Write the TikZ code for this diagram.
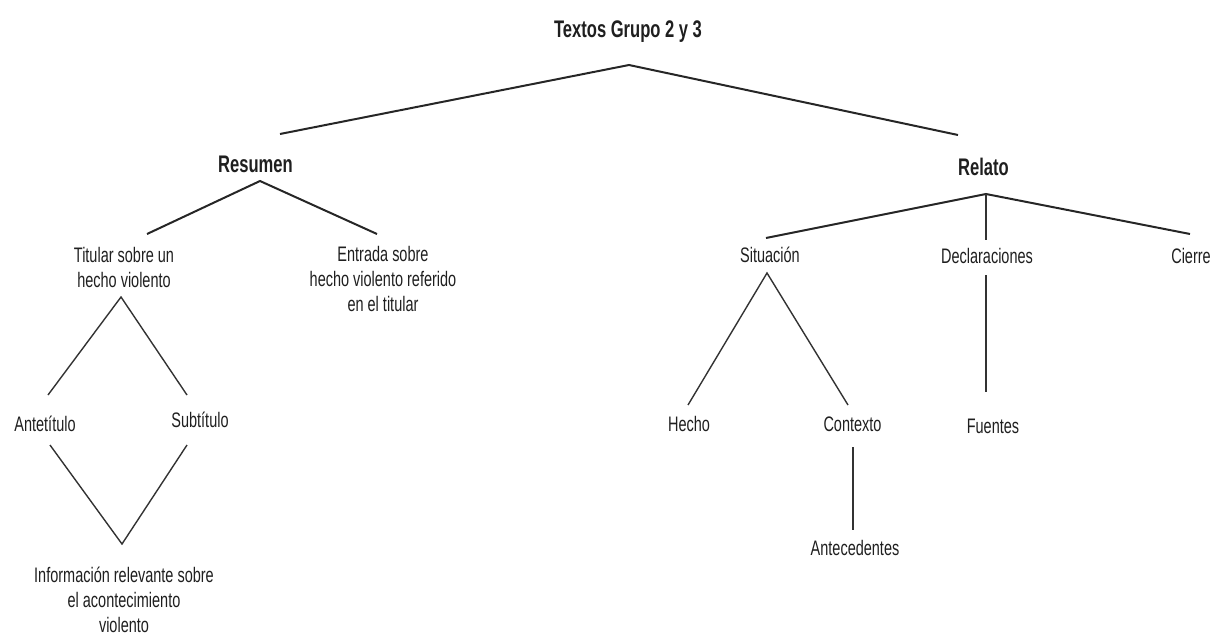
\documentclass[tikz,border=0pt]{standalone}
\usepackage{fontspec}
\setmainfont{Liberation Sans}[FakeStretch=0.69]
\begin{document}
\begin{tikzpicture}[x=1pt,y=-1pt,
  txt/.style={inner sep=0pt, text=black!88, font=\fontsize{21}{25}\selectfont, align=center},
  head/.style={inner sep=0pt, text=black!88, font=\fontsize{24}{28}\selectfont\bfseries},
  thick link/.style={draw=black!85, line width=2pt},
  thin link/.style={draw=black!80, line width=1.4pt}]
\useasboundingbox (0,0) rectangle (1212,637);
% texts
\node[head, anchor=base] (title) at (628,37) {Textos Grupo 2 y 3};
\node[head, anchor=base] (resumen) at (255.5,172) {Resumen};
\node[head, anchor=base] (relato) at (983.5,175) {Relato};
\node[txt, anchor=north] (titular) at (124,247) {Titular sobre un\\hecho violento};
\node[txt, anchor=north] (entrada) at (383,246) {Entrada sobre\\hecho violento referido\\en el titular};
\node[txt, anchor=base] (ante) at (45,431) {Antetítulo};
\node[txt, anchor=base] (sub) at (200,427) {Subtítulo};
\node[txt, anchor=north] (info) at (124,567) {Información relevante sobre\\el acontecimiento\\violento};
\node[txt, anchor=base] (situacion) at (770,262) {Situación};
\node[txt, anchor=base] (declar) at (987,263) {Declaraciones};
\node[txt, anchor=base] (cierre) at (1191,263) {Cierre};
\node[txt, anchor=base] (hecho) at (689,431) {Hecho};
\node[txt, anchor=base] (contexto) at (852.5,431) {Contexto};
\node[txt, anchor=base] (fuentes) at (993,433) {Fuentes};
\node[txt, anchor=base] (antec) at (855,555) {Antecedentes};
% connector end points
\coordinate (tA) at (629,65);
\coordinate (rsIn) at (280,134);
\coordinate (rlIn) at (958,135);
\coordinate (rsA) at (260,181);
\coordinate (tiIn) at (147,234);
\coordinate (enIn) at (377,234);
\coordinate (tiA) at (121,297);
\coordinate (anIn) at (48,395);
\coordinate (suIn) at (187,395);
\coordinate (anOut) at (50,445);
\coordinate (suOut) at (187,445);
\coordinate (inIn) at (122,544);
\coordinate (rlA) at (986,194);
\coordinate (siIn) at (766,238);
\coordinate (deIn) at (986,240);
\coordinate (ciIn) at (1190,234);
\coordinate (deOut) at (986,275);
\coordinate (fuIn) at (986,392);
\coordinate (siA) at (767,273);
\coordinate (heIn) at (688,405);
\coordinate (coIn) at (848,405);
\coordinate (coOut) at (853,447);
\coordinate (acIn) at (853,530);
% connectors
\draw[thick link] (rsIn) -- (tA) -- (rlIn);
\draw[thick link] (tiIn) -- (rsA) -- (enIn);
\draw[thick link] (siIn) -- (rlA) -- (ciIn);
\draw[thin link] (rlA) -- (deIn);
\draw[thin link] (anIn) -- (tiA) -- (suIn);
\draw[thin link] (anOut) -- (inIn) -- (suOut);
\draw[thin link] (deOut) -- (fuIn);
\draw[thin link] (heIn) -- (siA) -- (coIn);
\draw[thin link] (coOut) -- (acIn);
\end{tikzpicture}
\end{document}
